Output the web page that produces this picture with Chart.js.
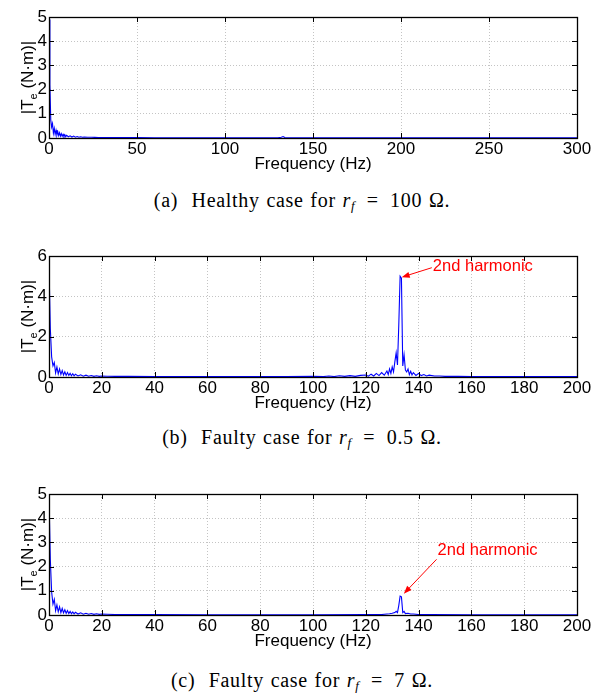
<!DOCTYPE html>
<html>
<head>
<meta charset="utf-8">
<script src="https://cdn.jsdelivr.net/npm/chart.js@4.4.0/dist/chart.umd.min.js"></script>
<style>
  body { margin: 0; background: #fff; }
  #wrap { position: relative; width: 600px; height: 693px; }
  canvas { position: absolute; left: 0; }
  .cap { position: absolute; left: 2px; width: 600px; text-align: center;
         font-family: 'Liberation Serif', serif; font-size: 20px; letter-spacing: 0.7px; word-spacing: 1px;
         color: #000; line-height: 20px; }
  .cap i { font-style: italic; }
  .cap sub { font-size: 13px; vertical-align: -3px; }
</style>
</head>
<body>
<div id="wrap">
  <canvas id="chartA" width="600" height="180" style="top:0px"></canvas>
  <div class="cap" style="top:190px">(a)&nbsp; Healthy case for <i>r<sub>f</sub></i>&thinsp; = &thinsp;100 &Omega;.</div>
  <canvas id="chartB" width="600" height="180" style="top:239px"></canvas>
  <div class="cap" style="top:427px">(b)&nbsp; Faulty case for <i>r<sub>f</sub></i>&thinsp; = &thinsp;0.5 &Omega;.</div>
  <canvas id="chartC" width="600" height="180" style="top:477px"></canvas>
  <div class="cap" style="top:670px">(c)&nbsp; Faulty case for <i>r<sub>f</sub></i>&thinsp; = &thinsp;7 &Omega;.</div>
</div>
<script>
// (a) healthy, r_f = 100 ohm
const freqA = [0, 0.5, 1, 1.5, 2, 2.5, 3, 3.5, 4, 4.5,
               5, 5.5, 6, 6.5, 7, 7.5, 8, 8.5, 9, 9.5,
               10, 11, 12, 13, 14, 15, 16, 17, 18, 19,
               20, 22, 24, 26, 28, 30, 35, 40, 50, 60,
               80, 100, 120, 130, 132, 133, 134, 136, 150, 200,
               250, 300];
const magA = [4.9, 2.2, 0.75, 0.45, 0.6, 0.2, 0.4, 0.15, 0.32, 0.12,
              0.26, 0.1, 0.22, 0.08, 0.18, 0.07, 0.15, 0.06, 0.13, 0.05,
              0.11, 0.05, 0.09, 0.04, 0.08, 0.035, 0.06, 0.03, 0.05, 0.03,
              0.04, 0.03, 0.03, 0.025, 0.02, 0.02, 0.02, 0.015, 0.015, 0.01,
              0.01, 0.01, 0.01, 0.01, 0.03, 0.06, 0.02, 0.01, 0.01, 0.01,
              0.01, 0.01];

// (b) faulty, r_f = 0.5 ohm
const freqB = [0, 0.5, 1, 1.5, 2, 2.5, 3, 3.5, 4, 4.5,
               5, 5.5, 6, 6.5, 7, 7.5, 8, 8.5, 9, 9.5,
               10, 11, 12, 13, 14, 15, 16, 17, 18, 19,
               20, 22, 25, 30, 40, 50, 60, 70, 80, 90,
               100, 104, 106, 108, 110, 112, 114, 116, 118, 120,
               121, 122, 123, 124, 125, 126, 127, 128, 128.5, 129,
               129.5, 130, 130.5, 131, 131.5, 132, 132.5, 133, 133.5, 134,
               134.5, 135, 135.5, 136, 136.5, 137, 137.5, 138, 139, 140,
               141, 142, 143, 144, 146, 148, 150, 155, 160, 170,
               180, 190, 200];
const magB = [5.5, 2.4, 1.0, 0.55, 0.72, 0.2, 0.5, 0.15, 0.4, 0.12,
              0.32, 0.1, 0.26, 0.08, 0.22, 0.08, 0.18, 0.06, 0.16, 0.06,
              0.14, 0.05, 0.11, 0.04, 0.09, 0.04, 0.07, 0.03, 0.06, 0.03,
              0.05, 0.04, 0.03, 0.03, 0.02, 0.02, 0.02, 0.02, 0.02, 0.02,
              0.03, 0.02, 0.05, 0.02, 0.06, 0.03, 0.07, 0.03, 0.08, 0.1,
              0.04, 0.14, 0.05, 0.18, 0.07, 0.22, 0.09, 0.3, 0.12, 0.4,
              0.18, 0.5, 0.25, 0.75, 1.2, 0.6, 2.6, 5.0, 4.9, 0.55,
              1.1, 0.35, 0.25, 0.4, 0.12, 0.28, 0.1, 0.22, 0.08, 0.18,
              0.07, 0.12, 0.05, 0.09, 0.05, 0.05, 0.03, 0.03, 0.02, 0.02,
              0.02, 0.02, 0.02];

// (c) faulty, r_f = 7 ohm
const freqC = [0, 0.5, 1, 1.5, 2, 2.5, 3, 3.5, 4, 4.5,
               5, 5.5, 6, 6.5, 7, 7.5, 8, 8.5, 9, 9.5,
               10, 11, 12, 13, 14, 15, 16, 17, 18, 19,
               20, 22, 25, 30, 40, 60, 80, 100, 120, 126,
               128, 129, 130, 131, 131.5, 132, 132.5, 133, 133.5, 134,
               134.5, 135, 136, 137, 138, 140, 145, 160, 180, 200];
const magC = [4.9, 2.3, 0.95, 0.45, 0.65, 0.18, 0.42, 0.13, 0.34, 0.1,
              0.27, 0.09, 0.22, 0.07, 0.18, 0.06, 0.15, 0.05, 0.13, 0.05,
              0.11, 0.04, 0.09, 0.035, 0.07, 0.03, 0.06, 0.025, 0.05, 0.025,
              0.04, 0.03, 0.02, 0.02, 0.015, 0.01, 0.01, 0.01, 0.015, 0.02,
              0.04, 0.05, 0.07, 0.1, 0.15, 0.1, 0.4, 0.78, 0.75, 0.1,
              0.15, 0.06, 0.07, 0.04, 0.04, 0.02, 0.015, 0.01, 0.01, 0.01];

// MATLAB-like box, inward ticks, y title with subscript and red arrow note
const matlabBox = {
  id: 'matlabBox',
  afterDraw(chart, args, opts) {
    const {ctx, chartArea: a, scales: {x, y}} = chart;
    ctx.save();
    ctx.strokeStyle = '#000';
    ctx.lineWidth = 1;
    ctx.beginPath();
    x.ticks.forEach(t => {
      const px = Math.round(x.getPixelForValue(t.value)) + 0.5;
      ctx.moveTo(px, a.bottom); ctx.lineTo(px, a.bottom - 5);
      ctx.moveTo(px, a.top); ctx.lineTo(px, a.top + 5);
    });
    y.ticks.forEach(t => {
      const py = Math.round(y.getPixelForValue(t.value)) + 0.5;
      ctx.moveTo(a.left, py); ctx.lineTo(a.left + 5, py);
      ctx.moveTo(a.right, py); ctx.lineTo(a.right - 5, py);
    });
    ctx.stroke();
    ctx.lineWidth = 1.3;
    ctx.strokeRect(Math.round(a.left) + 0.5, Math.round(a.top) + 0.5, Math.round(a.width), Math.round(a.height));

    // y title: |T_e (N·m)|
    ctx.translate(33, (a.top + a.bottom) / 2);
    ctx.rotate(-Math.PI / 2);
    ctx.fillStyle = '#000';
    ctx.textBaseline = 'alphabetic';
    const big = '17px "Liberation Sans", Arial, sans-serif';
    const small = '11px "Liberation Sans", Arial, sans-serif';
    ctx.font = big;
    const w1 = ctx.measureText('|T').width;
    const w3 = ctx.measureText(' (N\u00b7m)|').width;
    ctx.font = small;
    const w2 = ctx.measureText('e').width;
    let sx = -(w1 + w2 + w3) / 2;
    ctx.font = big; ctx.fillText('|T', sx, 0); sx += w1;
    ctx.font = small; ctx.fillText('e', sx, 4); sx += w2;
    ctx.font = big; ctx.fillText(' (N\u00b7m)|', sx, 0);
    ctx.setTransform(1, 0, 0, 1, 0, 0);

    const note = opts.note;
    if (note) {
      const tx = x.getPixelForValue(note.tip[0]), ty = y.getPixelForValue(note.tip[1]);
      const fx = x.getPixelForValue(note.tail[0]), fy = y.getPixelForValue(note.tail[1]);
      ctx.strokeStyle = '#ff0000';
      ctx.fillStyle = '#ff0000';
      ctx.lineWidth = 1;
      const ang = Math.atan2(ty - fy, tx - fx);
      ctx.beginPath();
      ctx.moveTo(fx, fy);
      ctx.lineTo(tx - 6 * Math.cos(ang), ty - 6 * Math.sin(ang));
      ctx.stroke();
      ctx.beginPath();
      ctx.moveTo(tx, ty);
      ctx.lineTo(tx - 8 * Math.cos(ang) + 3 * Math.sin(ang), ty - 8 * Math.sin(ang) - 3 * Math.cos(ang));
      ctx.lineTo(tx - 8 * Math.cos(ang) - 3 * Math.sin(ang), ty - 8 * Math.sin(ang) + 3 * Math.cos(ang));
      ctx.closePath();
      ctx.fill();
      ctx.font = '16.5px "Liberation Sans", Arial, sans-serif';
      ctx.textBaseline = 'middle';
      ctx.textAlign = 'left';
      ctx.fillText(note.text, x.getPixelForValue(note.label[0]), y.getPixelForValue(note.label[1]));
    }
    ctx.restore();
  }
};

function makeChart(id, freq, mag, xMax, xStep, yMax, yStep, note) {
  const tickFont = {family: '"Liberation Sans", Arial, sans-serif', size: 17};
  return new Chart(document.getElementById(id), {
    type: 'line',
    data: {
      datasets: [{
        data: freq.map((f, i) => ({x: f, y: mag[i]})),
        borderColor: '#0000ff',
        borderWidth: 1.1,
        pointRadius: 0,
        tension: 0,
        fill: false
      }]
    },
    options: {
      responsive: false,
      animation: false,
      events: [],
      layout: {padding: {top: 17, right: 23, left: 0, bottom: 0}},
      plugins: {
        legend: {display: false},
        tooltip: {enabled: false},
        matlabBox: {note: note}
      },
      scales: {
        x: {
          type: 'linear', min: 0, max: xMax,
          ticks: {stepSize: xStep, color: '#000', font: tickFont, padding: 1, maxRotation: 0, autoSkip: false},
          grid: {color: '#c4c4c4', lineWidth: 1, drawTicks: false},
          border: {display: true, color: '#000', dash: [1, 2]},
          title: {display: true, text: 'Frequency (Hz)', color: '#000', font: tickFont, padding: {top: 0, bottom: 5}},
          afterFit: s => { s.height = 42; }
        },
        y: {
          type: 'linear', min: 0, max: yMax,
          ticks: {stepSize: yStep, color: '#000', font: tickFont, padding: 2},
          grid: {color: '#c4c4c4', lineWidth: 1, drawTicks: false},
          border: {display: true, color: '#000', dash: [1, 2]},
          afterFit: s => { s.width = 49; }
        }
      }
    },
    plugins: [matlabBox]
  });
}

makeChart('chartA', freqA, magA, 300, 50, 5, 1, null);
makeChart('chartB', freqB, magB, 200, 20, 6, 2,
  {text: '2nd harmonic', tip: [133.6, 4.95], tail: [145, 5.42], label: [145.4, 5.5]});
makeChart('chartC', freqC, magC, 200, 20, 5, 1,
  {text: '2nd harmonic', tip: [134.4, 0.88], tail: [146.8, 2.3], label: [147.2, 2.67]});
</script>
</body>
</html>
